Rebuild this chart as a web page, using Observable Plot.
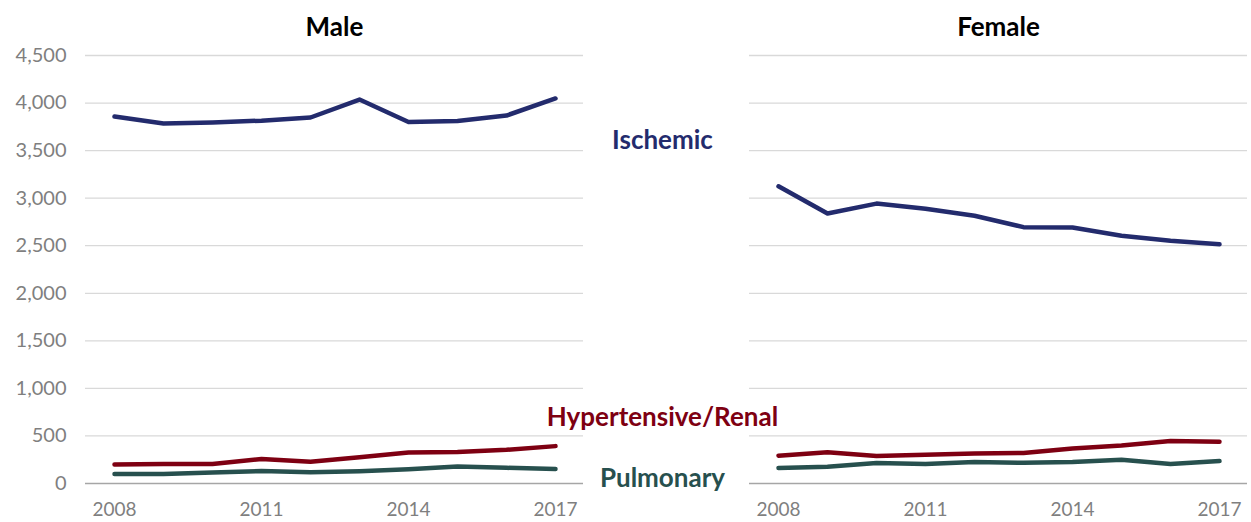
<!DOCTYPE html>
<html>
<head>
<meta charset="utf-8">
<script src="https://cdn.jsdelivr.net/npm/d3@7"></script>
<script src="https://cdn.jsdelivr.net/npm/@observablehq/plot@0.6"></script>
<style>
  body { margin: 0; background: #fff; }
  svg { font-family: Lato, "Open Sans", sans-serif; }
</style>
</head>
<body>
<div id="chart"></div>
<script>
const years = [2008, 2009, 2010, 2011, 2012, 2013, 2014, 2015, 2016, 2017];
const sexes = ["Male", "Female"];
const seriesNames = ["Ischemic", "Hypertensive/Renal", "Pulmonary"];
const seriesColors = ["#232b6d", "#7e0012", "#27504e"];
const yTicks = [0, 500, 1000, 1500, 2000, 2500, 3000, 3500, 4000, 4500];
const xTicks = [2008, 2011, 2014, 2017];

const maleIschemic = [3858, 3785, 3795, 3815, 3848, 4037, 3800, 3812, 3869, 4048];
const maleHypertensive = [200, 205, 205, 257, 228, 275, 325, 330, 354, 393];
const malePulmonary = [100, 100, 115, 132, 118, 130, 150, 178, 165, 153];
const femaleIschemic = [3125, 2838, 2943, 2889, 2815, 2695, 2692, 2605, 2553, 2515];
const femaleHypertensive = [293, 328, 290, 302, 316, 320, 368, 400, 446, 440];
const femalePulmonary = [164, 175, 215, 204, 225, 218, 225, 250, 204, 236];

const seriesBySex = {
  Male: [maleIschemic, maleHypertensive, malePulmonary],
  Female: [femaleIschemic, femaleHypertensive, femalePulmonary]
};

const rows = [];
for (const sex of sexes) {
  seriesBySex[sex].forEach((vals, si) => {
    vals.forEach((v, i) => rows.push({sex, series: seriesNames[si], year: years[i], value: v}));
  });
}

const labelRows = [
  {sex: "Male", year: 2017, value: 3600, label: "Ischemic", series: "Ischemic"},
  {sex: "Male", year: 2017, value: 690, label: "Hypertensive/Renal", series: "Hypertensive/Renal"},
  {sex: "Male", year: 2017, value: 55, label: "Pulmonary", series: "Pulmonary"}
];

const chart = Plot.plot({
  width: 1251,
  height: 522,
  marginLeft: 85,
  marginRight: 4,
  marginTop: 55,
  marginBottom: 39,
  style: {fontFamily: "Lato, 'Open Sans', sans-serif", background: "#fff"},
  fx: {domain: sexes, paddingInner: 0.25, paddingOuter: 0, label: null},
  x: {type: "point", domain: years, padding: 0.5, label: null},
  y: {domain: [0, 4500], label: null},
  color: {domain: seriesNames, range: seriesColors},
  marks: [
    Plot.gridY(yTicks.filter(d => d > 0), {stroke: "#d9d9d9", strokeOpacity: 1, strokeWidth: 1.3}),
    Plot.ruleY([0], {stroke: "#a6a6a6", strokeWidth: 1.5}),
    Plot.axisY({ticks: yTicks, tickSize: 0, tickPadding: 19, tickFormat: d3.format(","), fontSize: 20, fill: "#7f7f7f", label: null}),
    Plot.axisX({ticks: xTicks, tickSize: 0, tickPadding: 19, tickFormat: d => String(d), fontSize: 19, fill: "#7f7f7f", label: null}),
    Plot.axisFx({anchor: "top", tickSize: 0, dy: -11, fontSize: 26, fontWeight: "bold", fill: "#000", label: null}),
    Plot.line(rows, {fx: "sex", x: "year", y: "value", z: "series", stroke: "series", strokeWidth: 4.5, strokeLinejoin: "round", strokeLinecap: "round"}),
    Plot.text(labelRows, {fx: "sex", x: "year", y: "value", text: "label", fill: "series", dx: 107, fontSize: 26, fontWeight: "bold"})
  ]
});
document.getElementById("chart").append(chart);
</script>
</body>
</html>
